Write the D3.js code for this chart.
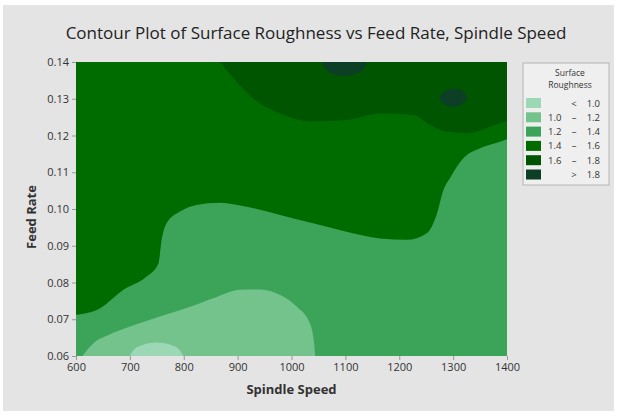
<!DOCTYPE html>
<html>
<head>
<meta charset="utf-8">
<script src="https://cdn.jsdelivr.net/npm/d3@7"></script>
<style>
  body { margin: 0; background: #fff; }
  text { font-family: "Open Sans", "Noto Sans", sans-serif; fill: #333; }
</style>
</head>
<body>
<svg id="chart" width="617" height="416"></svg>
<script>
// tick values
var speedTicks = [600, 700, 800, 900, 1000, 1100, 1200, 1300, 1400];
var feedTicks = [0.06, 0.07, 0.08, 0.09, 0.10, 0.11, 0.12, 0.13, 0.14];

// contour boundaries, [spindle speed, feed rate]
var c10 = [[700, 0.06], [706, 0.0615], [720, 0.0628], [750, 0.0637], [780, 0.0628], [793, 0.0615], [799, 0.06]];
var c12 = [[612, 0.06], [635, 0.0638], [660, 0.0657], [700, 0.068], [750, 0.0705], [812, 0.0734], [860, 0.076],
           [904, 0.078], [942, 0.0781], [979, 0.0766], [1010, 0.0734], [1034, 0.0689], [1042, 0.0634], [1044, 0.06]];
var c14 = [[600, 0.0712], [645, 0.073], [688, 0.078], [731, 0.0816], [753, 0.0852], [759, 0.0916], [768, 0.0961],
           [793, 0.0993], [824, 0.1011], [867, 0.1017], [917, 0.1006], [979, 0.0984], [1040, 0.0961], [1102, 0.0938],
           [1164, 0.092], [1214, 0.0916], [1251, 0.0934], [1270, 0.0988], [1282, 0.1052], [1294, 0.1084],
           [1319, 0.1138], [1350, 0.1165], [1387, 0.1183], [1400, 0.119]];
var c16 = [[867, 0.14], [892, 0.1356], [929, 0.1301], [979, 0.126], [1040, 0.1238], [1102, 0.1242], [1164, 0.126],
           [1226, 0.1256], [1257, 0.1229], [1288, 0.121], [1325, 0.1206], [1362, 0.122], [1387, 0.1233], [1400, 0.124]];
var c18top = [[1056, 0.14], [1065, 0.1378], [1080, 0.1366], [1097, 0.1362], [1115, 0.1366], [1131, 0.1377], [1140, 0.14]];
var c18spot = [[1275, 0.1303], [1287, 0.1322], [1300, 0.1328], [1315, 0.1324], [1326, 0.1303], [1314, 0.1284], [1300, 0.1279], [1285, 0.1284]];

// legend
var legendLow = ["", "1.0", "1.2", "1.4", "1.6", ""];
var legendSign = ["<", "\u2013", "\u2013", "\u2013", "\u2013", ">"];
var legendHigh = ["1.0", "1.2", "1.4", "1.6", "1.8", "1.8"];
var colors = ["#9cd8b6", "#74c28c", "#3ba458", "#006c00", "#005500", "#0c3f25"];

var svg = d3.select("#chart");

var margin = {top: 62, right: 110, bottom: 60, left: 76},
    width = 431,
    height = 294;

// panel background
svg.append("rect")
  .attr("x", 3).attr("y", 5)
  .attr("width", 611).attr("height", 406)
  .attr("fill", "#e4e4e4");

svg.append("text")
  .text("Contour Plot of Surface Roughness vs Feed Rate, Spindle Speed")
  .attr("x", 316).attr("y", 39)
  .attr("text-anchor", "middle")
  .attr("font-size", 17)
  .style("fill", "#222");

var x = d3.scaleLinear().domain([600, 1400]).range([0, width]);
var y = d3.scaleLinear().domain([0.06, 0.14]).range([height, 0]);

var g = svg.append("g")
  .attr("transform", "translate(" + margin.left + "," + margin.top + ")");

g.append("clipPath").attr("id", "plotClip")
  .append("rect").attr("width", width).attr("height", height);

var plot = g.append("g").attr("clip-path", "url(#plotClip)");

// 1.4 - 1.6 fills the whole field first
plot.append("rect")
  .attr("width", width).attr("height", height)
  .attr("fill", colors[3]);

var below = d3.area()
  .curve(d3.curveMonotoneX)
  .x(function(d) { return x(d[0]); })
  .y0(y(0.06))
  .y1(function(d) { return y(d[1]); });

var above = d3.area()
  .curve(d3.curveMonotoneX)
  .x(function(d) { return x(d[0]); })
  .y0(function(d) { return y(d[1]); })
  .y1(y(0.14));

plot.append("path").datum(c14).attr("d", below).attr("fill", colors[2]);
plot.append("path").datum(c12).attr("d", below).attr("fill", colors[1]);
plot.append("path").datum(c10).attr("d", below).attr("fill", colors[0]);
plot.append("path").datum(c16).attr("d", above).attr("fill", colors[4]);
plot.append("path").datum(c18top).attr("d", above).attr("fill", colors[5]);

plot.append("path")
  .datum(c18spot)
  .attr("d", d3.line()
    .curve(d3.curveCardinalClosed)
    .x(function(d) { return x(d[0]); })
    .y(function(d) { return y(d[1]); }))
  .attr("fill", colors[5]);

// axes
var xAxis = g.append("g")
  .attr("transform", "translate(0," + height + ")")
  .call(d3.axisBottom(x).tickValues(speedTicks).tickSize(4).tickPadding(3).tickFormat(d3.format("d")));

var yAxis = g.append("g")
  .call(d3.axisLeft(y).tickValues(feedTicks).tickSize(4).tickPadding(3).tickFormat(d3.format(".2f")));

[xAxis, yAxis].forEach(function(a) {
  a.select(".domain").remove();
  a.selectAll(".tick line").attr("stroke", "#999");
  a.selectAll(".tick text")
    .attr("font-family", "\"Open Sans\", sans-serif")
    .attr("font-size", 11)
    .style("fill", "#333");
});

svg.append("text")
  .text("Spindle Speed")
  .attr("x", margin.left + width / 2).attr("y", 394)
  .attr("text-anchor", "middle")
  .attr("font-size", 13)
  .attr("font-weight", "bold");

svg.append("text")
  .text("Feed Rate")
  .attr("transform", "translate(36," + (margin.top + height / 2 + 8) + ") rotate(-90)")
  .attr("text-anchor", "middle")
  .attr("font-size", 13)
  .attr("font-weight", "bold");

// legend
var legend = svg.append("g").attr("transform", "translate(523,63)");

legend.append("rect")
  .attr("width", 86).attr("height", 122)
  .attr("fill", "#efefef")
  .attr("stroke", "#b4b4b4");

legend.append("text").text("Surface")
  .attr("x", 47).attr("y", 13)
  .attr("text-anchor", "middle").attr("font-size", 8.5);
legend.append("text").text("Roughness")
  .attr("x", 47).attr("y", 25)
  .attr("text-anchor", "middle").attr("font-size", 8.5);

var rows = legend.selectAll("g.row")
  .data(colors)
  .enter().append("g")
  .attr("class", "row")
  .attr("transform", function(d, i) { return "translate(0," + (35 + i * 14.3) + ")"; });

rows.append("rect")
  .attr("x", 3).attr("y", 0)
  .attr("width", 15).attr("height", 10)
  .attr("fill", function(d) { return d; });

rows.append("text")
  .attr("x", 25).attr("y", 8.5)
  .attr("font-size", 9.5)
  .text(function(d, i) { return legendLow[i]; });

rows.append("text")
  .attr("x", 51).attr("y", 8.5)
  .attr("text-anchor", "middle")
  .attr("font-size", 9.5)
  .text(function(d, i) { return legendSign[i]; });

rows.append("text")
  .attr("x", 77).attr("y", 8.5)
  .attr("text-anchor", "end")
  .attr("font-size", 9.5)
  .text(function(d, i) { return legendHigh[i]; });
</script>
</body>
</html>
